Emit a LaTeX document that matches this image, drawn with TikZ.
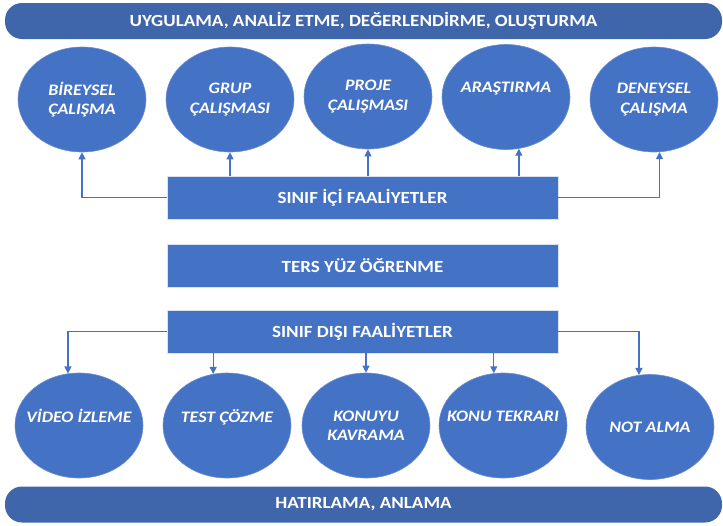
\documentclass[tikz,border=0pt]{standalone}
\usepackage{fontspec}
\setmainfont[FakeStretch=1.12]{Carlito}
\usetikzlibrary{arrows.meta,shapes.geometric}
\definecolor{office-blue}{HTML}{4472C4}
\definecolor{band-blue}{HTML}{3F65AB}
\definecolor{rim-blue}{HTML}{6C8FD0}

\begin{document}
\begin{tikzpicture}[
    x=1pt, y=-1pt,
    bubble/.style={
        ellipse, fill=office-blue, draw=rim-blue, line width=0.6pt,
        minimum width=128pt, minimum height=105pt, inner sep=0pt,
        text=white, align=center,
        font=\fontsize{16}{19.5}\selectfont\bfseries\itshape,
    },
    bar/.style={
        rectangle, fill=office-blue, draw=white!80!office-blue, line width=0.6pt,
        minimum width=391pt, minimum height=43pt,
        text=white, font=\fontsize{17}{20}\selectfont\bfseries,
    },
    band/.style={
        rectangle, rounded corners=17pt, fill=band-blue,
        minimum width=717pt, minimum height=36pt,
        text=white, font=\fontsize{17}{20}\selectfont\bfseries,
    },
    link/.style={
        draw=office-blue, line width=1.2pt,
        -{Triangle[length=7pt,width=7pt]},
    },
]
\useasboundingbox (0,0) rectangle (723,525);

% upper band and in-class activities
\node[band] (ust) at (363.5,21) {UYGULAMA, ANALİZ ETME, DEĞERLENDİRME, OLUŞTURMA};
\node[bubble] (bireysel) at (82,99.5) {\makebox[0pt]{BİREYSEL}\\\makebox[0pt]{ÇALIŞMA}};
\node[bubble] (grup) at (230,99.5) {\makebox[0pt]{GRUP}\\\makebox[0pt]{ÇALIŞMASI}};
\node[bubble] (proje) at (368,96.5) {\makebox[0pt]{PROJE}\\\makebox[0pt]{ÇALIŞMASI}};
\node[bubble] (arastirma) at (506,97) {\makebox[0pt]{ARAŞTIRMA}\\\phantom{X}};
\node[bubble] (deneysel) at (654,99.5) {\makebox[0pt]{DENEYSEL}\\\makebox[0pt]{ÇALIŞMA}};

% middle bars
\node[bar] (ici) at (362.5,197.5) {SINIF İÇİ FAALİYETLER};
\node[bar] (ters) at (362.5,266) {TERS YÜZ ÖĞRENME};
\node[bar] (disi) at (362.5,331.5) {SINIF DIŞI FAALİYETLER};

% out-of-class activities and lower band
\node[bubble] (video) at (79,425.5) {\makebox[0pt]{VİDEO İZLEME}\\\phantom{X}};
\node[bubble] (test) at (227,425.5) {\makebox[0pt]{TEST ÇÖZME}\\\phantom{X}};
\node[bubble] (konuyu) at (366,425.5) {\makebox[0pt]{KONUYU}\\\makebox[0pt]{KAVRAMA}};
\node[bubble] (tekrar) at (503,425.5) {\makebox[0pt]{KONU TEKRARI}\\\phantom{X}};
\node[bubble] (not) at (650,427) {\makebox[0pt]{NOT ALMA}};
\node[band] (alt) at (363.5,504.5) {HATIRLAMA, ANLAMA};

% connectors
\draw[link] (ici.west) -| (bireysel.south);
\draw[link] (ici.north -| grup.south) -- (grup.south);
\draw[link] (ici.north -| proje.south) -- (proje.south);
\draw[link] (ici.north -| arastirma.-76) -- (arastirma.-76);
\draw[link] (ici.east) -| (deneysel.-84);

\draw[link] (disi.west) -| (video.102);
\draw[link] (disi.south -| test.105) -- (test.105);
\draw[link] (disi.south -| konuyu.north) -- (konuyu.north);
\draw[link] (disi.south -| tekrar.100) -- (tekrar.100);
\draw[link] (disi.east) -| (not.102);
\end{tikzpicture}
\end{document}
